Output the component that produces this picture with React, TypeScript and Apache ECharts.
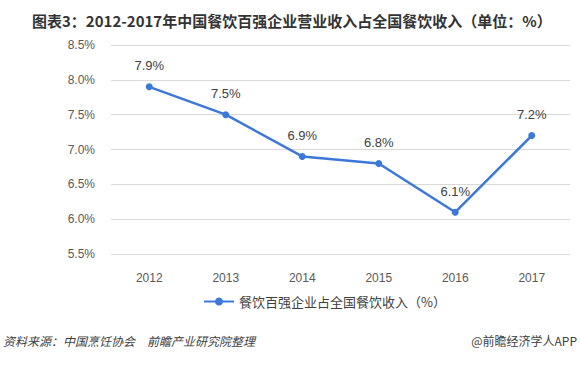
import React, { useEffect, useRef } from "react";
import * as echarts from "echarts";

const categories = ["2012", "2013", "2014", "2015", "2016", "2017"];
const shareValues = [7.9, 7.5, 6.9, 6.8, 6.1, 7.2];
const seriesName = "餐饮百强企业占全国餐饮收入（%）";
const titleText = "图表3：2012-2017年中国餐饮百强企业营业收入占全国餐饮收入（单位：%）";
const sourceText = "资料来源：中国烹饪协会　前瞻产业研究院整理";
const creditText = "@前瞻经济学人APP";

export default function App() {
  const ref = useRef<HTMLDivElement>(null);
  useEffect(() => {
    if (!ref.current) return;
    const chart = echarts.init(ref.current, null, { renderer: "svg" });
    const font = "'Noto Sans CJK SC', 'Noto Sans', sans-serif";
    chart.setOption({
      animation: false,
      backgroundColor: "#ffffff",
      textStyle: { fontFamily: font },
      title: {
        text: titleText,
        left: 27,
        top: 8,
        textStyle: { fontSize: 15, fontWeight: "bold", color: "#333333", fontFamily: font },
      },
      grid: { left: 111, right: 11, top: 45, bottom: 111 },
      legend: {
        data: [seriesName],
        left: 198,
        top: 290,
        itemWidth: 30,
        itemHeight: 10,
        itemGap: 4,
        textStyle: { fontSize: 13, color: "#404040", fontFamily: font },
      },
      xAxis: {
        type: "category",
        data: categories,
        boundaryGap: true,
        axisLine: { show: false },
        axisTick: { show: false },
        axisLabel: { color: "#595959", fontSize: 12, margin: 18, fontFamily: "Arial, 'Liberation Sans', sans-serif" },
      },
      yAxis: {
        type: "value",
        min: 5.5,
        max: 8.5,
        interval: 0.5,
        axisLine: { show: false },
        axisTick: { show: false },
        axisLabel: {
          color: "#595959",
          fontSize: 12,
          margin: 16,
          fontFamily: "Arial, 'Liberation Sans', sans-serif",
          formatter: (v: number) => v.toFixed(1) + "%",
        },
        splitLine: { lineStyle: { color: "#d9d9d9", width: 1 } },
      },
      series: [
        {
          name: seriesName,
          type: "line",
          data: shareValues,
          symbol: "circle",
          symbolSize: 7,
          lineStyle: { color: "#3c78d8", width: 2.5 },
          itemStyle: { color: "#3c78d8" },
          label: {
            show: true,
            position: "top",
            distance: 11,
            color: "#404040",
            fontSize: 13,
            fontFamily: "Arial, 'Liberation Sans', sans-serif",
            formatter: (p: any) => p.value.toFixed(1) + "%",
          },
        },
      ],
      graphic: [
        {
          type: "text",
          left: 3,
          top: 334,
          style: {
            text: sourceText,
            font: "italic 12px 'Noto Sans CJK SC', sans-serif",
            fill: "#404040",
          },
        },
        {
          type: "text",
          right: 4,
          top: 334,
          style: {
            text: creditText,
            font: "12px 'Noto Sans CJK SC', sans-serif",
            fill: "#404040",
          },
        },
      ],
    });
    return () => chart.dispose();
  }, []);
  return (
    <div
      ref={ref}
      style={{ position: "fixed", left: 0, top: 0, width: 581, height: 365, background: "#fff" }}
    />
  );
}
